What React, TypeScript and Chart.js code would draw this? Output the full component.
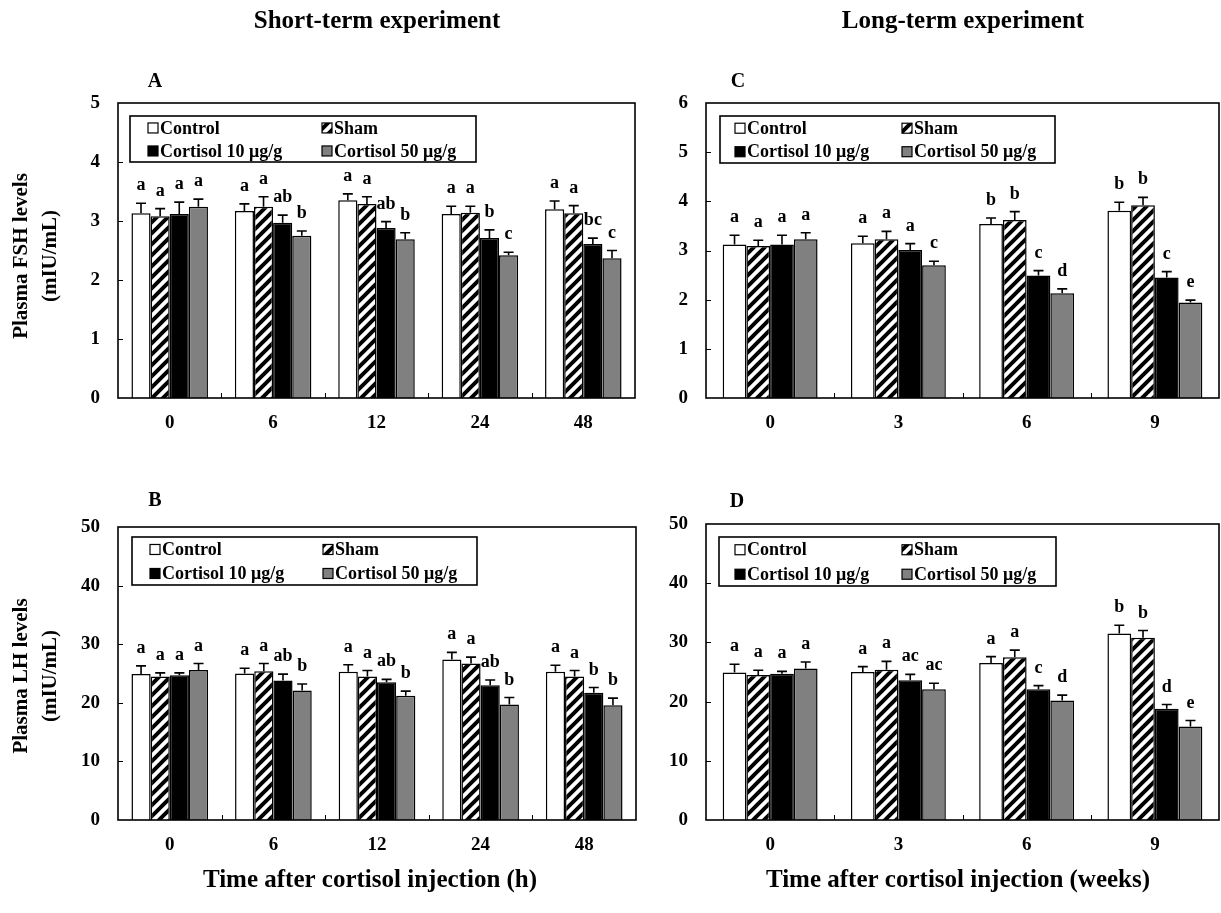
import React, { useEffect, useRef } from 'react';
import { Chart, registerables } from 'chart.js';

Chart.register(...registerables);

const SERIES_NAMES = ['Control', 'Sham', 'Cortisol 10 μg/g', 'Cortisol 50 μg/g'];

// Panel A: plasma FSH, short-term (h)
const A_CATEGORIES = ['0', '6', '12', '24', '48'];
const A_CONTROL = [3.13, 3.17, 3.35, 3.12, 3.20];
const A_SHAM = [3.08, 3.24, 3.29, 3.14, 3.13];
const A_CORT10 = [3.12, 2.97, 2.88, 2.71, 2.61];
const A_CORT50 = [3.24, 2.75, 2.69, 2.42, 2.37];
const A_CONTROL_SEM = [0.17, 0.12, 0.11, 0.13, 0.14];
const A_SHAM_SEM = [0.13, 0.17, 0.12, 0.11, 0.13];
const A_CORT10_SEM = [0.2, 0.13, 0.11, 0.14, 0.1];
const A_CORT50_SEM = [0.13, 0.08, 0.11, 0.05, 0.13];
const A_CONTROL_LET = ['a', 'a', 'a', 'a', 'a'];
const A_SHAM_LET = ['a', 'a', 'a', 'a', 'a'];
const A_CORT10_LET = ['a', 'ab', 'ab', 'b', 'bc'];
const A_CORT50_LET = ['a', 'b', 'b', 'c', 'c'];

// Panel C: plasma FSH, long-term (weeks)
const C_CATEGORIES = ['0', '3', '6', '9'];
const C_CONTROL = [3.12, 3.15, 3.54, 3.81];
const C_SHAM = [3.09, 3.23, 3.62, 3.92];
const C_CORT10 = [3.12, 3.01, 2.49, 2.45];
const C_CORT50 = [3.23, 2.7, 2.13, 1.94];
const C_CONTROL_SEM = [0.19, 0.14, 0.12, 0.17];
const C_SHAM_SEM = [0.12, 0.16, 0.17, 0.16];
const C_CORT10_SEM = [0.19, 0.13, 0.1, 0.12];
const C_CORT50_SEM = [0.13, 0.08, 0.09, 0.05];
const C_CONTROL_LET = ['a', 'a', 'b', 'b'];
const C_SHAM_LET = ['a', 'a', 'b', 'b'];
const C_CORT10_LET = ['a', 'a', 'c', 'c'];
const C_CORT50_LET = ['a', 'c', 'd', 'e'];

// Panel B: plasma LH, short-term (h)
const B_CATEGORIES = ['0', '6', '12', '24', '48'];
const B_CONTROL = [24.9, 25.0, 25.3, 27.4, 25.3];
const B_SHAM = [24.5, 25.4, 24.5, 26.7, 24.5];
const B_CORT10 = [24.7, 23.8, 23.5, 23.0, 21.7];
const B_CORT50 = [25.6, 22.1, 21.2, 19.7, 19.6];
const B_CONTROL_SEM = [1.4, 0.9, 1.2, 1.2, 1.1];
const B_SHAM_SEM = [0.6, 1.3, 1.0, 1.1, 1.0];
const B_CORT10_SEM = [0.4, 1.1, 0.5, 0.9, 0.9];
const B_CORT50_SEM = [1.1, 1.1, 0.8, 1.2, 1.2];
const B_CONTROL_LET = ['a', 'a', 'a', 'a', 'a'];
const B_SHAM_LET = ['a', 'a', 'a', 'a', 'a'];
const B_CORT10_LET = ['a', 'ab', 'ab', 'ab', 'b'];
const B_CORT50_LET = ['a', 'b', 'b', 'b', 'b'];

// Panel D: plasma LH, long-term (weeks)
const D_CATEGORIES = ['0', '3', '6', '9'];
const D_CONTROL = [24.9, 25.0, 26.5, 31.5];
const D_SHAM = [24.5, 25.4, 27.5, 30.8];
const D_CORT10 = [24.7, 23.6, 22.1, 18.8];
const D_CORT50 = [25.6, 22.1, 20.2, 15.8];
const D_CONTROL_SEM = [1.4, 0.9, 1.1, 1.4];
const D_SHAM_SEM = [0.8, 1.4, 1.2, 1.2];
const D_CORT10_SEM = [0.4, 1.0, 0.6, 0.7];
const D_CORT50_SEM = [1.1, 1.0, 0.9, 1.0];
const D_CONTROL_LET = ['a', 'a', 'a', 'b'];
const D_SHAM_LET = ['a', 'a', 'a', 'b'];
const D_CORT10_LET = ['a', 'ac', 'c', 'd'];
const D_CORT50_LET = ['a', 'ac', 'd', 'e'];

const W = 1221;
const H = 913;
const FONT = "'Liberation Serif', 'Times New Roman', serif";
const GRAY = '#808080';

type Panel = {
  letter: string;
  letterPos: [number, number];
  categories: string[];
  values: number[][];
  sems: number[][];
  letters: string[][];
  yMax: number;
  yStep: number;
  area: { left: number; top: number; right: number; bottom: number };
  legend: { dx: number; dy: number; w: number; h: number; mx: number; colGap: number };
  yTitle?: string[];
  yTitleCenterY?: number;
  topTitle?: { text: string; x: number; y: number };
  xTitle?: { text: string; x: number; y: number };
};

const PANELS: Panel[] = [
  {
    letter: 'A',
    letterPos: [155, 82],
    categories: A_CATEGORIES,
    values: [A_CONTROL, A_SHAM, A_CORT10, A_CORT50],
    sems: [A_CONTROL_SEM, A_SHAM_SEM, A_CORT10_SEM, A_CORT50_SEM],
    letters: [A_CONTROL_LET, A_SHAM_LET, A_CORT10_LET, A_CORT50_LET],
    yMax: 5,
    yStep: 1,
    area: { left: 118, top: 103, right: 635, bottom: 398 },
    legend: { dx: 12, dy: 13, w: 346, h: 46, mx: 18, colGap: 174 },
    yTitle: ['Plasma FSH levels', '(mIU/mL)'],
    yTitleCenterY: 256,
    topTitle: { text: 'Short-term experiment', x: 377, y: 22 },
  },
  {
    letter: 'C',
    letterPos: [738, 82],
    categories: C_CATEGORIES,
    values: [C_CONTROL, C_SHAM, C_CORT10, C_CORT50],
    sems: [C_CONTROL_SEM, C_SHAM_SEM, C_CORT10_SEM, C_CORT50_SEM],
    letters: [C_CONTROL_LET, C_SHAM_LET, C_CORT10_LET, C_CORT50_LET],
    yMax: 6,
    yStep: 1,
    area: { left: 706, top: 103, right: 1219, bottom: 398 },
    legend: { dx: 14, dy: 13, w: 335, h: 47, mx: 15, colGap: 167 },
    topTitle: { text: 'Long-term experiment', x: 963, y: 22 },
  },
  {
    letter: 'B',
    letterPos: [155, 501],
    categories: B_CATEGORIES,
    values: [B_CONTROL, B_SHAM, B_CORT10, B_CORT50],
    sems: [B_CONTROL_SEM, B_SHAM_SEM, B_CORT10_SEM, B_CORT50_SEM],
    letters: [B_CONTROL_LET, B_SHAM_LET, B_CORT10_LET, B_CORT50_LET],
    yMax: 50,
    yStep: 10,
    area: { left: 118, top: 527, right: 636, bottom: 820 },
    legend: { dx: 14, dy: 10, w: 345, h: 48, mx: 18, colGap: 173 },
    yTitle: ['Plasma LH levels', '(mIU/mL)'],
    yTitleCenterY: 676,
    xTitle: { text: 'Time after cortisol injection (h)', x: 370, y: 881 },
  },
  {
    letter: 'D',
    letterPos: [737, 502],
    categories: D_CATEGORIES,
    values: [D_CONTROL, D_SHAM, D_CORT10, D_CORT50],
    sems: [D_CONTROL_SEM, D_SHAM_SEM, D_CORT10_SEM, D_CORT50_SEM],
    letters: [D_CONTROL_LET, D_SHAM_LET, D_CORT10_LET, D_CORT50_LET],
    yMax: 50,
    yStep: 10,
    area: { left: 706, top: 524, right: 1219, bottom: 820 },
    legend: { dx: 13, dy: 13, w: 337, h: 49, mx: 16, colGap: 167 },
    xTitle: { text: 'Time after cortisol injection (weeks)', x: 958, y: 881 },
  },
];

function makeHatch(ctx: CanvasRenderingContext2D): CanvasPattern | string {
  const s = 11;
  const pc = document.createElement('canvas');
  pc.width = s;
  pc.height = s;
  const p = pc.getContext('2d');
  if (!p) return '#fff';
  p.fillStyle = '#fff';
  p.fillRect(0, 0, s, s);
  p.strokeStyle = '#000';
  p.lineWidth = 4;
  p.beginPath();
  p.moveTo(-2, s + 2);
  p.lineTo(s + 2, -2);
  p.moveTo(-s / 2 - 2, s / 2 + 2);
  p.lineTo(s / 2 + 2, -s / 2 - 2);
  p.moveTo(s / 2 - 2, s * 1.5 + 2);
  p.lineTo(s * 1.5 + 2, s / 2 - 2);
  p.stroke();
  return ctx.createPattern(pc, 'repeat') || '#fff';
}

function PanelChart({ panel }: { panel: Panel }) {
  const ref = useRef<HTMLCanvasElement | null>(null);
  useEffect(() => {
    const canvas = ref.current;
    if (!canvas) return;
    const ctx0 = canvas.getContext('2d');
    if (!ctx0) return;
    const hatch = makeHatch(ctx0);
    const fills: any[] = ['#ffffff', hatch, '#000000', GRAY];

    const decor = {
      id: 'decor' + panel.letter,
      afterDatasetsDraw(chart: any) {
        const ctx: CanvasRenderingContext2D = chart.ctx;
        const ys = chart.scales.y;
        const xs = chart.scales.x;
        const ca = chart.chartArea;
        ctx.save();
        // frame
        ctx.strokeStyle = '#000';
        ctx.lineWidth = 1.6;
        ctx.strokeRect(ca.left, ca.top, ca.right - ca.left, ca.bottom - ca.top);
        // inner y ticks
        ctx.lineWidth = 1;
        for (let v = panel.yStep; v < panel.yMax; v += panel.yStep) {
          const y = Math.round(ys.getPixelForValue(v)) + 0.5;
          ctx.beginPath();
          ctx.moveTo(ca.left, y);
          ctx.lineTo(ca.left + 5, y);
          ctx.stroke();
        }
        // inner x ticks between categories
        for (let i = 0; i < panel.categories.length - 1; i++) {
          const x = Math.round((xs.getPixelForValue(i) + xs.getPixelForValue(i + 1)) / 2) + 0.5;
          ctx.beginPath();
          ctx.moveTo(x, ca.bottom);
          ctx.lineTo(x, ca.bottom - 5);
          ctx.stroke();
        }
        // error bars + letters
        ctx.font = `bold 18px ${FONT}`;
        ctx.fillStyle = '#000';
        ctx.textAlign = 'center';
        ctx.textBaseline = 'alphabetic';
        panel.values.forEach((vals, di) => {
          const meta = chart.getDatasetMeta(di);
          meta.data.forEach((bar: any, i: number) => {
            const x = bar.x;
            const yTop = ys.getPixelForValue(vals[i]);
            const yErr = ys.getPixelForValue(vals[i] + panel.sems[di][i]);
            ctx.lineWidth = 1.6;
            ctx.beginPath();
            ctx.moveTo(x, yTop);
            ctx.lineTo(x, yErr);
            ctx.moveTo(x - 5, yErr);
            ctx.lineTo(x + 5, yErr);
            ctx.stroke();
            ctx.fillText(panel.letters[di][i], x, yErr - 13);
          });
        });
        // legend box
        const lg = panel.legend;
        const x0 = ca.left + lg.dx;
        const y0 = ca.top + lg.dy;
        ctx.fillStyle = '#fff';
        ctx.fillRect(x0, y0, lg.w, lg.h);
        ctx.lineWidth = 1.6;
        ctx.strokeRect(x0, y0, lg.w, lg.h);
        const rows = [y0 + lg.h * 0.26, y0 + lg.h * 0.76];
        ctx.font = `bold 18px ${FONT}`;
        ctx.textAlign = 'left';
        ctx.textBaseline = 'middle';
        SERIES_NAMES.forEach((name, k) => {
          const col = k % 2;
          const row = Math.floor(k / 2);
          const mx = x0 + lg.mx + col * lg.colGap;
          const my = rows[row];
          ctx.fillStyle = fills[k];
          ctx.fillRect(mx, my - 5, 10, 10);
          ctx.lineWidth = 1.2;
          ctx.strokeStyle = '#000';
          ctx.strokeRect(mx, my - 5, 10, 10);
          ctx.fillStyle = '#000';
          ctx.fillText(name, mx + 12, my + 1);
        });
        ctx.restore();
      },
      afterDraw(chart: any) {
        const ctx: CanvasRenderingContext2D = chart.ctx;
        ctx.save();
        ctx.fillStyle = '#000';
        ctx.textAlign = 'center';
        ctx.textBaseline = 'middle';
        ctx.font = `bold 20px ${FONT}`;
        ctx.fillText(panel.letter, panel.letterPos[0], panel.letterPos[1]);
        ctx.font = `bold 25px ${FONT}`;
        if (panel.topTitle) ctx.fillText(panel.topTitle.text, panel.topTitle.x, panel.topTitle.y);
        if (panel.xTitle) ctx.fillText(panel.xTitle.text, panel.xTitle.x, panel.xTitle.y);
        if (panel.yTitle && panel.yTitleCenterY) {
          ctx.font = `bold 21px ${FONT}`;
          const xsPos = [22, 51];
          panel.yTitle.forEach((t, i) => {
            ctx.save();
            ctx.translate(xsPos[i], panel.yTitleCenterY as number);
            ctx.rotate(-Math.PI / 2);
            ctx.fillText(t, 0, 0);
            ctx.restore();
          });
        }
        ctx.restore();
      },
    };

    const a = panel.area;
    const Y_W = 60;
    const X_H = 50;
    const chart = new Chart(canvas, {
      type: 'bar',
      data: {
        labels: panel.categories,
        datasets: panel.values.map((vals, k) => ({
          label: SERIES_NAMES[k],
          data: vals,
          backgroundColor: fills[k],
          borderColor: '#000',
          borderWidth: 1.5,
          categoryPercentage: 0.74,
          barPercentage: 1.0,
        })),
      },
      options: {
        responsive: false,
        animation: false,
        devicePixelRatio: 1,
        events: [],
        layout: {
          padding: {
            left: a.left - Y_W,
            top: a.top,
            right: W - a.right,
            bottom: H - a.bottom - X_H,
          },
        },
        plugins: {
          legend: { display: false },
          tooltip: { enabled: false },
          title: { display: false },
        },
        scales: {
          x: {
            grid: { display: false, drawTicks: false },
            border: { display: false },
            ticks: { color: '#000', font: { family: FONT, size: 19, weight: 'bold' }, padding: 14 },
            afterFit: (s: any) => {
              s.height = X_H;
            },
          },
          y: {
            min: 0,
            max: panel.yMax,
            grid: { display: false, drawTicks: false },
            border: { display: false },
            ticks: {
              stepSize: panel.yStep,
              color: '#000',
              font: { family: FONT, size: 19, weight: 'bold' },
              padding: 18,
            },
            afterFit: (s: any) => {
              s.width = Y_W;
            },
          },
        },
      } as any,
      plugins: [decor as any],
    });
    return () => chart.destroy();
  }, [panel]);
  return (
    <canvas
      ref={ref}
      width={W}
      height={H}
      style={{ position: 'absolute', left: 0, top: 0, width: W, height: H }}
    />
  );
}

export default function App() {
  return (
    <div
      style={{
        position: 'absolute',
        left: 0,
        top: 0,
        width: W,
        height: H,
        overflow: 'hidden',
        background: '#fff',
      }}
    >
      {PANELS.map((p) => (
        <PanelChart key={p.letter} panel={p} />
      ))}
    </div>
  );
}
